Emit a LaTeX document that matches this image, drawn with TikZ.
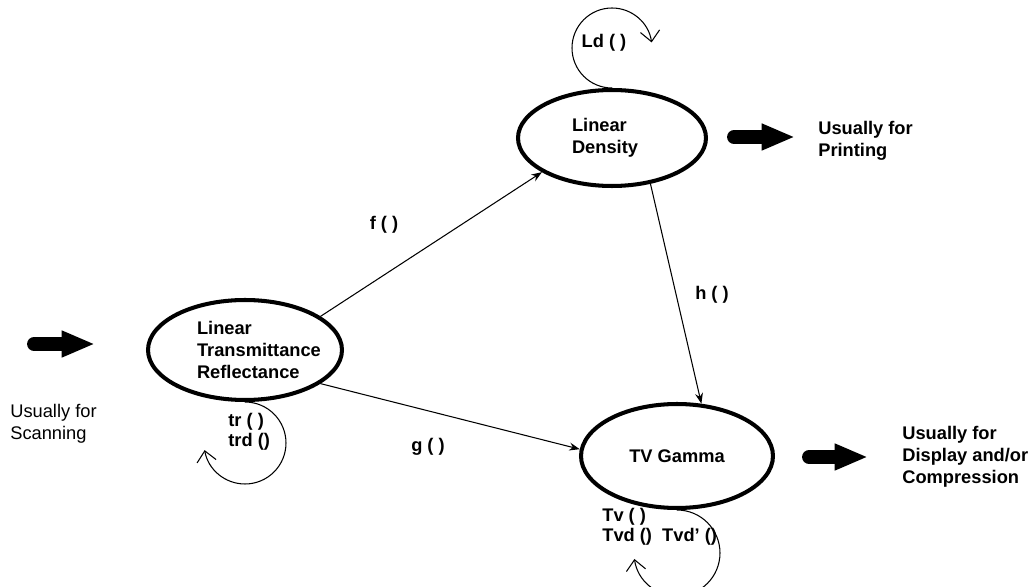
\documentclass[tikz,border=0pt]{standalone}
\usepackage{fontspec}
\setmainfont{Liberation Sans}
\usetikzlibrary{shapes,arrows.meta,positioning,calc}

\begin{document}
\begin{tikzpicture}[x=0.02cm, y=-0.02cm,
  state/.style={ellipse, draw, line width=2.3pt, font=\bfseries\fontsize{10.4}{12.5}\selectfont, align=left, inner sep=0pt},
  lbl/.style={font=\bfseries\fontsize{10.4}{11.5}\selectfont, align=left, inner sep=0pt},
  note/.style={font=\fontsize{10.4}{12.5}\selectfont, align=left, inner sep=0pt, anchor=west},
  arrow/.style={-{Stealth[length=6pt,width=4.5pt]}, line width=0.6pt},
  selfloop/.style={-{Straight Barb[length=6pt,width=11pt]}, line width=0.6pt},
  fat/.style={line width=7.9pt, line cap=round, -{Triangle[length=19pt,width=14pt]}}
]
\useasboundingbox (0,0) rectangle (1035,587);

\node[state, text width=1.6cm, minimum width=3.76cm, minimum height=1.92cm] (dens) at (612,138) {Linear\\Density};
\node[state, text width=1.92cm, minimum width=3.88cm, minimum height=2cm] (trans) at (245,350) {Linear\\Transmittance\\Reflectance};
\node[state, minimum width=3.84cm, minimum height=2.08cm] (tv) at (677,456) {TV Gamma};

\draw[arrow] (trans.24) -- (dens.206);
\draw[arrow] (dens.310) -- (tv.65);
\draw[arrow] (trans.336) -- (tv.176);

\node[lbl] (flbl) at (384,225) {f ( )};
\node[lbl] (hlbl) at (712,295) {h ( )};
\node[lbl] (glbl) at (428,447) {g ( )};

% self loops
\draw[selfloop] (dens.north) arc[start angle=270, end angle=8, radius=0.8cm];
\draw[selfloop] (trans.south) arc[start angle=90, end angle=-170, radius=0.82cm];
\draw[selfloop] (tv.south) arc[start angle=90, end angle=-172, radius=0.86cm];

\node[lbl] (ldlbl) at (604,43) {Ld ( )};
\node[lbl, anchor=west] (trlbl) at (228,432) {tr ( )\\trd ()};
\node[lbl, anchor=west] (tvlbl) at (602,527) {Tv ( )\\Tvd ()~~Tvd’ ()};

% in and out
\coordinate (scanin) at (34,344);
\coordinate (scanout) at (95,344);
\coordinate (printin) at (734,137);
\coordinate (printout) at (795,137);
\coordinate (dispin) at (809,457);
\coordinate (dispout) at (868,457);
\draw[fat] (scanin) -- (scanout);
\draw[fat] (printin) -- (printout);
\draw[fat] (dispin) -- (dispout);

\node[note] (scan) at (10,424) {Usually for\\Scanning};
\node[lbl, font=\bfseries\fontsize{10.4}{12.5}\selectfont, right=0.46cm of printout, yshift=-0.08cm] (print) {Usually for\\Printing};
\node[lbl, font=\bfseries\fontsize{10.4}{12.5}\selectfont, right=0.68cm of dispout] (disp) {Usually for\\Display and/or\\Compression};
\end{tikzpicture}
\end{document}
